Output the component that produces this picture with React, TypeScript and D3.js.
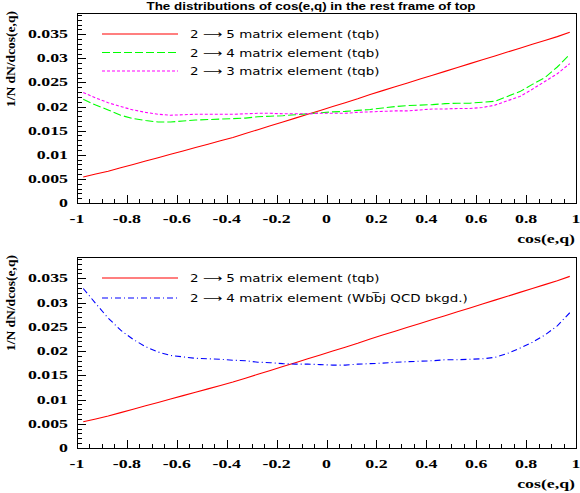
import React from "react";
import * as d3 from "d3";

// bin centres of cos(e,q)
const binCenters = [
  -0.975, -0.925, -0.875, -0.825, -0.775, -0.725, -0.675, -0.625, -0.575, -0.525,
  -0.475, -0.425, -0.375, -0.325, -0.275, -0.225, -0.175, -0.125, -0.075, -0.025,
  0.025, 0.075, 0.125, 0.175, 0.225, 0.275, 0.325, 0.375, 0.425, 0.475,
  0.525, 0.575, 0.625, 0.675, 0.725, 0.775, 0.825, 0.875, 0.925, 0.975,
];

// 2 -> 5 matrix element (tqb)
const me25 = [
  0.0054, 0.006, 0.0066, 0.0073, 0.008, 0.0087, 0.0094, 0.0101, 0.0108, 0.0115,
  0.0122, 0.0129, 0.0136, 0.0144, 0.0152, 0.016, 0.0168, 0.0176, 0.0184, 0.0192,
  0.02, 0.0208, 0.0216, 0.0225, 0.0233, 0.0241, 0.0249, 0.0257, 0.0265, 0.0273,
  0.0281, 0.0289, 0.0297, 0.0305, 0.0313, 0.0321, 0.0329, 0.0337, 0.0345, 0.0354,
];

// 2 -> 4 matrix element (tqb)
const me24 = [
  0.0215, 0.0203, 0.0193, 0.0182, 0.0175, 0.0171, 0.0168, 0.0168, 0.017, 0.0172,
  0.0173, 0.0174, 0.0175, 0.0176, 0.0179, 0.018, 0.0181, 0.0183, 0.0185, 0.0187,
  0.0189, 0.019, 0.0192, 0.0194, 0.0197, 0.02, 0.0202, 0.0203, 0.0204, 0.0206,
  0.0207, 0.0207, 0.0209, 0.0211, 0.0221, 0.0231, 0.0246, 0.026, 0.0282, 0.0308,
];

// 2 -> 3 matrix element (tqb)
const me23 = [
  0.0229, 0.0218, 0.0208, 0.02, 0.0193, 0.0188, 0.0184, 0.0182, 0.0183, 0.0184,
  0.0184, 0.0184, 0.0184, 0.0185, 0.0186, 0.0186, 0.0185, 0.0185, 0.0185, 0.0186,
  0.0186, 0.0186, 0.0188, 0.0189, 0.019, 0.0191, 0.0191, 0.0193, 0.0195, 0.0195,
  0.0196, 0.0196, 0.0198, 0.0203, 0.0212, 0.0221, 0.0236, 0.0252, 0.0268, 0.0289,
];

// 2 -> 4 matrix element (Wbb̄j QCD background)
const meQCD = [
  0.0329, 0.0298, 0.0268, 0.0243, 0.0224, 0.0209, 0.0198, 0.0191, 0.0188, 0.0185,
  0.0184, 0.0183, 0.0181, 0.018, 0.0177, 0.0176, 0.0174, 0.0173, 0.0173, 0.0172,
  0.0171, 0.0171, 0.0173, 0.0174, 0.0175, 0.0177, 0.0178, 0.0179, 0.018, 0.0182,
  0.0182, 0.0183, 0.0184, 0.0187, 0.0195, 0.0206, 0.0218, 0.0233, 0.0252, 0.0279,
];

const xTicks = [-1, -0.8, -0.6, -0.4, -0.2, 0, 0.2, 0.4, 0.6, 0.8, 1];
const xTickLabels = ["-1", "-0.8", "-0.6", "-0.4", "-0.2", "0", "0.2", "0.4", "0.6", "0.8", "1"];
const yTicks = [0, 0.005, 0.01, 0.015, 0.02, 0.025, 0.03, 0.035];
const yTickLabels = ["0", "0.005", "0.01", "0.015", "0.02", "0.025", "0.03", "0.035"];

const titleText = "The distributions of cos(e,q) in the rest frame of top";
const xTitle = "cos(e,q)";
const yTitle = "1/N dN/dcos(e,q)";

const topLegend = [
  { label: "2 \u27F6 5 matrix element (tqb)", values: me25, color: "#ff0000", dash: "none" },
  { label: "2 \u27F6 4 matrix element (tqb)", values: me24, color: "#00ff00", dash: "8,3" },
  { label: "2 \u27F6 3 matrix element (tqb)", values: me23, color: "#ff00ff", dash: "3,2" },
];
const bottomLegend = [
  { label: "2 \u27F6 5 matrix element (tqb)", values: me25, color: "#ff0000", dash: "none" },
  { label: "2 \u27F6 4 matrix element (Wbb\u0305j QCD bkgd.)", values: meQCD, color: "#0000ff", dash: "6,3,1,3" },
];

const X0 = 77;
const X1 = 576;
const YMAX = 0.0394;
const SERIF = "'Liberation Serif', 'Times New Roman', serif";
const SANS = "'Liberation Sans', Arial, sans-serif";
const LEG = "'DejaVu Sans', sans-serif";
const STRETCH = 1.55;

type Entry = { label: string; values: number[]; color: string; dash: string };

function Panel({ top, bottom, entries }: { top: number; bottom: number; entries: Entry[] }) {
  const x = d3.scaleLinear().domain([-1, 1]).range([X0, X1]);
  const y = d3.scaleLinear().domain([0, YMAX]).range([bottom, top]);
  const line = d3
    .line<number>()
    .x((_, i) => x(binCenters[i]))
    .y((d) => y(d));
  const xMinor = d3.range(-1, 1.0001, 0.05);
  const yMinor = d3.range(0, YMAX, 0.001);
  return (
    <g>
      {xMinor.map((v, i) => (
        <line key={"xm" + i} x1={Math.round(x(v)) + 0.5} x2={Math.round(x(v)) + 0.5} y1={bottom} y2={bottom - 4} stroke="#000" />
      ))}
      {xTicks.map((v, i) => (
        <line key={"xM" + i} x1={Math.round(x(v)) + 0.5} x2={Math.round(x(v)) + 0.5} y1={bottom} y2={bottom - 8} stroke="#000" />
      ))}
      {yMinor.map((v, i) => (
        <line key={"ym" + i} x1={X0} x2={X0 + 5} y1={Math.round(y(v)) + 0.5} y2={Math.round(y(v)) + 0.5} stroke="#000" />
      ))}
      {yTicks.map((v, i) => (
        <line key={"yM" + i} x1={X0} x2={X0 + 9} y1={Math.round(y(v)) + 0.5} y2={Math.round(y(v)) + 0.5} stroke="#000" />
      ))}
      {entries.map((e, i) => (
        <path key={"c" + i} d={line(e.values) || ""} fill="none" stroke={e.color} strokeWidth={1.1} strokeDasharray={e.dash} />
      ))}
      <rect x={X0 + 0.5} y={top + 0.5} width={X1 - X0} height={bottom - top} fill="none" stroke="#000" strokeWidth={1} />
      {xTicks.map((v, i) => (
        <text key={"xl" + i} transform={`translate(${x(v)},${bottom + 20}) scale(${STRETCH},1)`} textAnchor="middle" fontFamily={SERIF} fontWeight="bold" fontSize={11.5}>
          {xTickLabels[i]}
        </text>
      ))}
      {yTicks.map((v, i) => (
        <text key={"yl" + i} transform={`translate(${68},${y(v) + 4}) scale(${STRETCH},1)`} textAnchor="end" fontFamily={SERIF} fontWeight="bold" fontSize={11.5}>
          {yTickLabels[i]}
        </text>
      ))}
      <text transform={`translate(575,${bottom + 40}) scale(${STRETCH},1)`} textAnchor="end" fontFamily={SERIF} fontWeight="bold" fontSize={11.5}>
        {xTitle}
      </text>
      <text transform={`translate(15,${top - 2}) rotate(-90)`} textAnchor="end" fontFamily={SERIF} fontWeight="bold" fontSize={13.5}>
        {yTitle}
      </text>
      {entries.map((e, i) => {
        const ly = top + 21 + i * (entries.length === 3 ? 18.5 : 20);
        return (
          <g key={"lg" + i}>
            <line x1={102} x2={178} y1={ly} y2={ly} stroke={e.color} strokeWidth={1.1} strokeDasharray={e.dash} />
            <text transform={`translate(190,${ly + 4}) scale(1.28,1)`} fontFamily={LEG} fontSize={10.5} fill="#000">
              {e.label}
            </text>
          </g>
        );
      })}
    </g>
  );
}

export default function App() {
  return (
    <svg width={580} height={493} style={{ display: "block", position: "absolute", left: 0, top: 0, background: "#fff" }}>
      <rect width={580} height={493} fill="#fff" />
      <text transform="translate(311,10) scale(1.22,1)" textAnchor="middle" fontFamily={SANS} fontWeight="bold" fontSize={11}>
        {titleText}
      </text>
      <Panel top={13} bottom={203} entries={topLegend} />
      <Panel top={257} bottom={448} entries={bottomLegend} />
    </svg>
  );
}
